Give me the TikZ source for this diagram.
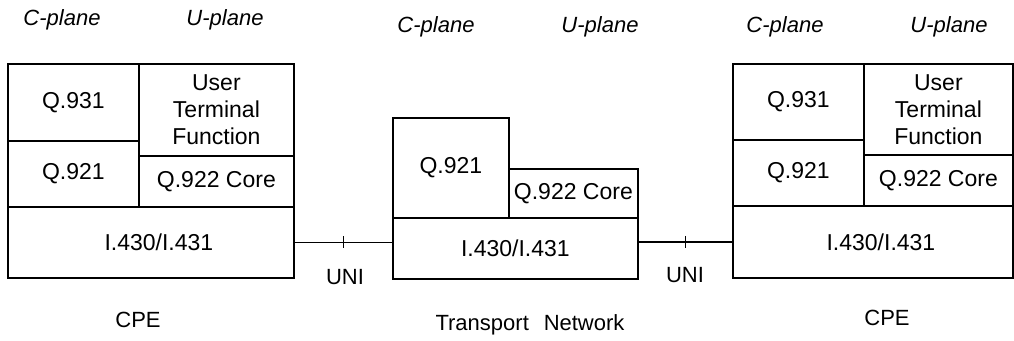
\documentclass[tikz,border=0pt]{standalone}
\usepackage{fontspec}
\setmainfont{Liberation Sans}
\begin{document}
\begin{tikzpicture}[x=1pt,y=-1pt,
  every node/.style={font=\fontsize{23}{27}\selectfont},
  layer/.style={draw, line width=1.8pt, anchor=north west, inner sep=0pt, align=center},
  plane/.style={font=\fontsize{22}{27}\selectfont\itshape},
  caption/.style={font=\fontsize{22}{27}\selectfont},
  link/.style={line width=1.8pt}]
\useasboundingbox (0,0) rectangle (1014,340);

% plane headings
\node[plane] (cL) at (62,20) {C-plane};
\node[plane] (uL) at (225,20) {U-plane};
\node[plane] (cM) at (436,27) {C-plane};
\node[plane] (uM) at (600,27) {U-plane};
\node[plane] (cR) at (785,27) {C-plane};
\node[plane] (uR) at (949,27) {U-plane};

% left CPE stack
\node[layer, minimum width=131pt, minimum height=77pt] (q931L) at (7,63) {Q.931};
\node[layer, minimum width=131pt, minimum height=66pt] (q921L) at (7,140) {Q.921};
\node[layer, minimum width=155pt, minimum height=92pt] (utfL) at (138,63) {User\\Terminal\\Function};
\node[layer, minimum width=155pt, minimum height=51pt] (q922L) at (138,155) {Q.922 Core};
\node[layer, minimum width=286pt, minimum height=71pt] (i430L) at (7,206) {\hspace*{16pt}I.430/I.431};

% transport network stack
\node[layer, minimum width=116pt, minimum height=100pt] (q921M) at (392,117) {Q.921};
\node[layer, minimum width=129pt, minimum height=49pt] (q922M) at (508,168) {Q.922 Core};
\node[layer, minimum width=245pt, minimum height=61pt] (i430M) at (392,217) {I.430/I.431};

% right CPE stack
\node[layer, minimum width=131pt, minimum height=76pt] (q931R) at (732,63) {Q.931};
\node[layer, minimum width=131pt, minimum height=66pt] (q921R) at (732,139) {Q.921};
\node[layer, minimum width=149pt, minimum height=91pt] (utfR) at (863,63) {User\\Terminal\\Function};
\node[layer, minimum width=149pt, minimum height=51pt] (q922R) at (863,154) {Q.922 Core};
\node[layer, minimum width=280pt, minimum height=72pt] (i430R) at (732,205) {\hspace*{16pt}I.430/I.431};

% UNI links with tick marks
\draw[link] (i430L.east) -- coordinate[pos=0.5] (tickL) (i430L.east -| i430M.west);
\draw[link] (tickL) ++(0,-6) -- ++(0,12);
\draw[link] (i430M.east |- i430R.west) -- coordinate[pos=0.5] (tickR) (i430R.west);
\draw[link] (tickR) ++(0,-6) -- ++(0,12);
\node[caption] (uniL) at (345,277) {UNI};
\node[caption] (uniR) at (685,275) {UNI};

% stack captions
\node[caption] (cpeL) at (138,320) {CPE};
\node[caption] (tn) at (530,325) {Transport\hspace{0.4em} Network};
\node[caption] (cpeR) at (887,318) {CPE};
\end{tikzpicture}
\end{document}
